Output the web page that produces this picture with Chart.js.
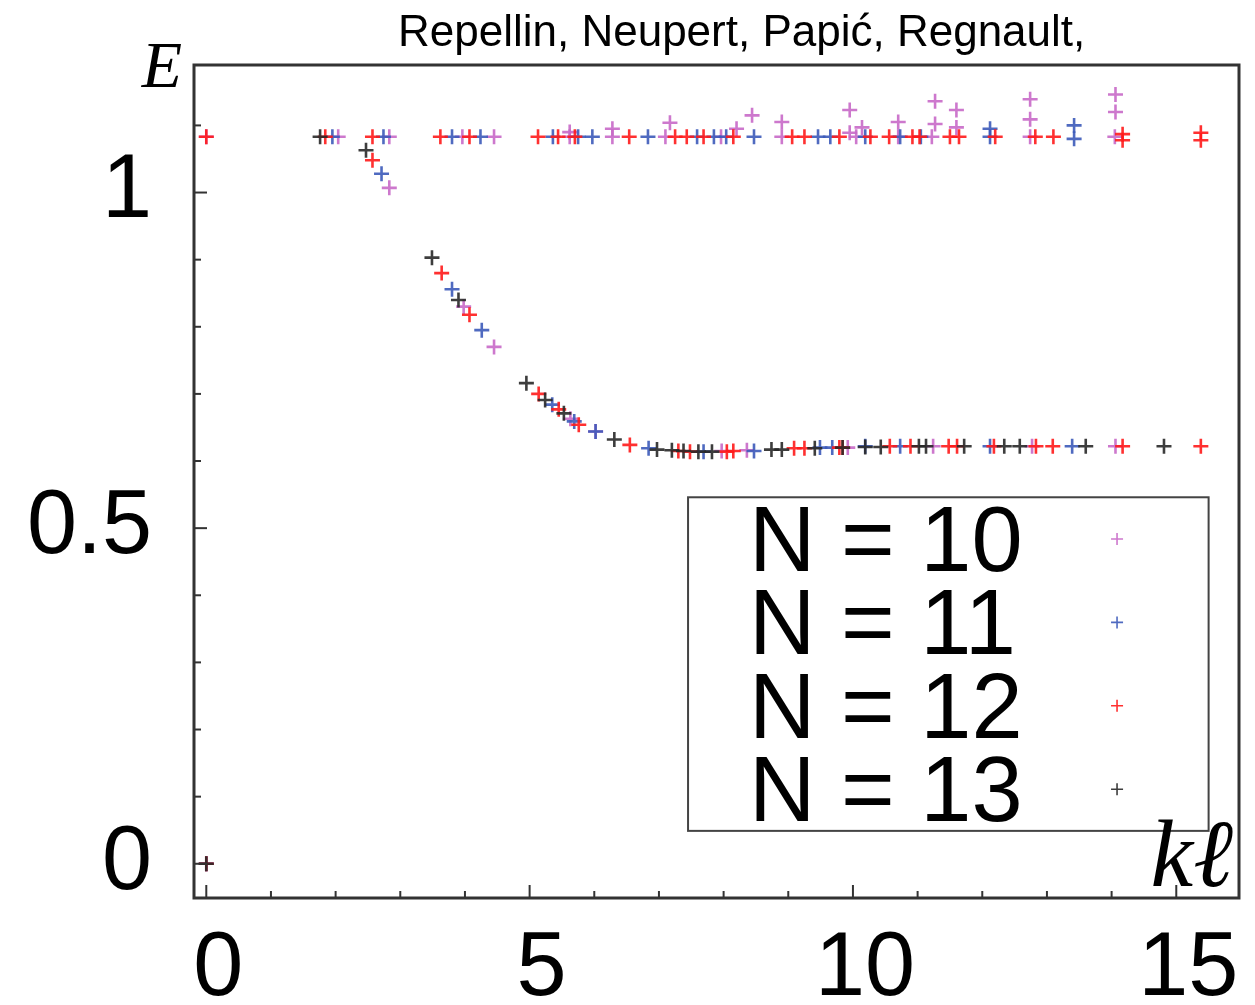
<!DOCTYPE html>
<html>
<head>
<meta charset="utf-8">
<script src="https://cdn.jsdelivr.net/npm/chart.js@4.4.0/dist/chart.umd.min.js"></script>
<style>
  html, body { margin: 0; padding: 0; background: #ffffff; }
  canvas { display: block; }
</style>
</head>
<body>
<canvas id="chart" width="1255" height="1005"></canvas>
<script>
// ---------- data ----------
const titleText = 'Repellin, Neupert, Papić, Regnault,';
const yAxisTitle = 'E';
const xAxisTitle = 'kℓ';
const seriesLabels = ['N = 10', 'N = 11', 'N = 12', 'N = 13'];

const xTickValues = [0, 1, 2, 3, 4, 5, 6, 7, 8, 9, 10, 11, 12, 13, 14, 15];
const xMajorTicks = [0, 5, 10, 15];
const yTickValues = [0, 0.1, 0.2, 0.3, 0.4, 0.5, 0.6, 0.7, 0.8, 0.9, 1, 1.1];
const yMajorTicks = [0, 0.5, 1];
const yTickLabels = ['0', '0.5', '1'];

const n10kl = [0, 0, 2.04, 2.83, 2.83, 3.96, 4.45, 5.62, 5.62, 6.28, 6.28, 7.10, 7.17, 7.96, 8.20, 8.44, 8.90, 8.90,
  9.95, 9.95, 10.05, 10.14, 10.70, 10.70, 11.22, 11.27, 11.27, 11.60, 11.60, 12.74, 12.74, 12.74, 14.05, 14.06, 14.06,
  3.98, 4.45, 5.63, 6.02, 7.97, 8.36, 9.92, 11.24, 12.77, 14.06];
const n10E = [0, 1.083, 1.083, 1.083, 1.007, 1.083, 1.083, 1.083, 1.090, 1.083, 1.095, 1.083, 1.104, 1.083, 1.095, 1.115, 1.105, 1.083,
  1.123, 1.089, 1.083, 1.097, 1.105, 1.083, 1.083, 1.136, 1.102, 1.123, 1.097, 1.139, 1.109, 1.083, 1.083, 1.146, 1.120,
  0.830, 0.770, 0.663, 0.644, 0.615, 0.616, 0.620, 0.622, 0.622, 0.622];

const n11kl = [0, 1.95, 2.74, 2.71, 3.80, 4.24, 5.36, 5.75, 5.97, 6.83, 7.59, 7.85, 8.04, 8.47, 9.46, 9.65, 10.19, 10.73,
  11.05, 12.12, 12.12, 13.42, 13.42,
  3.80, 4.26, 5.35, 5.69, 6.02, 6.84, 7.69, 8.47, 9.49, 9.68, 10.19, 10.73, 12.12, 13.39];
const n11E = [0, 1.083, 1.083, 1.028, 1.083, 1.083, 1.083, 1.083, 1.083, 1.083, 1.083, 1.083, 1.083, 1.083, 1.083, 1.083, 1.083, 1.083,
  1.083, 1.095, 1.083, 1.100, 1.080,
  0.856, 0.795, 0.684, 0.659, 0.644, 0.619, 0.614, 0.615, 0.620, 0.620, 0.622, 0.622, 0.622, 0.622];

const n12kl = [0, 0, 1.84, 2.57, 2.57, 3.62, 4.07, 5.13, 5.44, 5.70, 6.54, 7.25, 7.43, 7.69, 8.15, 9.06, 9.25, 9.79,
  10.27, 10.56, 10.92, 11.03, 11.50, 11.64, 12.20, 12.82, 13.10, 14.17, 14.17, 15.38, 15.38,
  3.64, 4.07, 5.14, 5.45, 5.76, 6.55, 7.30, 7.48, 8.05, 8.15, 9.09, 9.25, 9.79, 9.84, 10.57, 10.89, 11.48, 11.61,
  12.18, 12.83, 13.09, 14.17, 15.38];
const n12E = [0, 1.083, 1.083, 1.083, 1.048, 1.083, 1.083, 1.083, 1.083, 1.083, 1.083, 1.083, 1.083, 1.083, 1.083, 1.083, 1.083, 1.083,
  1.083, 1.083, 1.083, 1.083, 1.083, 1.083, 1.083, 1.083, 1.083, 1.087, 1.078, 1.089, 1.078,
  0.880, 0.818, 0.700, 0.677, 0.654, 0.624, 0.615, 0.614, 0.614, 0.615, 0.619, 0.619, 0.620, 0.620, 0.622, 0.622, 0.622, 0.622,
  0.622, 0.622, 0.622, 0.622, 0.622];

const n13kl = [0, 1.76, 2.47, 3.49, 3.90, 4.95, 5.24, 5.53, 6.31, 6.97, 7.20, 7.38, 7.61, 7.82, 8.74, 8.90, 9.41, 9.84,
  10.19, 10.43, 11.02, 11.13, 11.72, 12.34, 12.58, 13.60, 14.81];
const n13E = [0, 1.083, 1.063, 0.903, 0.840, 0.716, 0.691, 0.671, 0.632, 0.617, 0.616, 0.615, 0.614, 0.614, 0.617, 0.617, 0.619, 0.620,
  0.621, 0.621, 0.622, 0.622, 0.622, 0.622, 0.622, 0.622, 0.622];

// ---------- styling ----------
const seriesColors = ['rgba(200,105,200,0.9)', 'rgba(60,90,185,0.9)', 'rgba(255,25,25,0.9)', 'rgba(40,40,40,0.9)'];
const frameColor = '#333333';
const sans = '"Liberation Sans", Arimo, Helvetica, Arial, sans-serif';
const serif = '"Liberation Serif", "DejaVu Serif", serif';

function toPoints(xs, ys) {
  const n = Math.min(xs.length, ys.length);
  const out = [];
  for (let i = 0; i < n; i++) out.push({ x: xs[i], y: ys[i] });
  return out;
}

const seriesData = [toPoints(n10kl, n10E), toPoints(n11kl, n11E), toPoints(n12kl, n12E), toPoints(n13kl, n13E)];

const datasets = seriesData.map((d, i) => ({
  label: seriesLabels[i],
  data: d,
  pointStyle: 'cross',
  pointRadius: 7.5,
  pointHoverRadius: 7.5,
  pointBorderWidth: 2.6,
  borderColor: seriesColors[i],
  backgroundColor: seriesColors[i],
  showLine: false,
  order: 4 - i
}));

// ---------- custom drawing: frame, inward ticks, legend, labels ----------
const decorPlugin = {
  id: 'decor',
  afterDraw(chart) {
    const ctx = chart.ctx;
    const a = chart.chartArea;
    const xs = chart.scales.x, ys = chart.scales.y;
    ctx.save();
    // inward ticks
    ctx.strokeStyle = frameColor;
    ctx.lineWidth = 2;
    xTickValues.forEach(v => {
      const px = xs.getPixelForValue(v);
      const len = xMajorTicks.includes(v) ? 13 : 7;
      ctx.beginPath(); ctx.moveTo(px, a.bottom); ctx.lineTo(px, a.bottom - len); ctx.stroke();
    });
    yTickValues.forEach(v => {
      const py = ys.getPixelForValue(v);
      const len = yMajorTicks.includes(v) ? 13 : 7;
      ctx.beginPath(); ctx.moveTo(a.left, py); ctx.lineTo(a.left + len, py); ctx.stroke();
    });
    // frame
    ctx.lineWidth = 3;
    ctx.strokeRect(a.left, a.top, a.right - a.left, a.bottom - a.top);

    // legend box
    const lx = xs.getPixelForValue(7.45), rx = xs.getPixelForValue(15.5);
    const ty = ys.getPixelForValue(0.546), by = ys.getPixelForValue(0.049);
    ctx.fillStyle = '#ffffff';
    ctx.fillRect(lx, ty, rx - lx, by - ty);
    ctx.lineWidth = 2;
    ctx.strokeStyle = '#444444';
    ctx.strokeRect(lx, ty, rx - lx, by - ty);
    const rowH = (by - ty) / 4;
    ctx.font = '92px ' + sans;
    ctx.textAlign = 'left';
    ctx.textBaseline = 'alphabetic';
    seriesLabels.forEach((lab, i) => {
      const cy = ty + rowH * (i + 0.5);
      ctx.fillStyle = '#000000';
      ctx.fillText(lab, lx + 61, cy + 32);
      const mx = lx + 429;
      ctx.strokeStyle = seriesColors[i];
      ctx.lineWidth = 1.6;
      ctx.beginPath();
      ctx.moveTo(mx - 6, cy); ctx.lineTo(mx + 6, cy);
      ctx.moveTo(mx, cy - 6); ctx.lineTo(mx, cy + 6);
      ctx.stroke();
    });

    // title
    ctx.fillStyle = '#000000';
    ctx.font = '44px ' + sans;
    ctx.textAlign = 'left';
    ctx.fillText(titleText, 398, 46);

    // axis titles
    ctx.font = 'italic 66px ' + serif;
    ctx.textAlign = 'right';
    ctx.fillText(yAxisTitle, a.left - 12, a.top + 22);
    ctx.font = 'italic 96px ' + serif;
    ctx.textAlign = 'right';
    ctx.fillText(xAxisTitle, a.right - 6, a.bottom - 12);
    ctx.restore();
  }
};

new Chart(document.getElementById('chart'), {
  type: 'scatter',
  data: { datasets },
  options: {
    responsive: false,
    animation: false,
    devicePixelRatio: 1,
    layout: { padding: { left: 0, right: 16, top: 65, bottom: 0 } },
    plugins: {
      legend: { display: false },
      tooltip: { enabled: false },
      title: { display: false }
    },
    scales: {
      x: {
        type: 'linear',
        min: -0.19,
        max: 15.97,
        afterBuildTicks: s => { s.ticks = xTickValues.map(v => ({ value: v })); },
        afterFit: s => { s.height = 107; s.paddingLeft = 0; s.paddingRight = 0; },
        grid: { display: false, drawTicks: false },
        border: { display: false },
        ticks: {
          autoSkip: false,
          maxRotation: 0,
          padding: 18,
          labelOffset: 12,
          color: '#000000',
          font: { family: sans, size: 90 },
          callback: v => (xMajorTicks.includes(v) ? String(v) : '')
        }
      },
      y: {
        type: 'linear',
        min: -0.051,
        max: 1.19,
        afterBuildTicks: s => { s.ticks = yTickValues.map(v => ({ value: v })); },
        afterFit: s => { s.width = 194; s.paddingTop = 0; s.paddingBottom = 0; },
        grid: { display: false, drawTicks: false },
        border: { display: false },
        ticks: {
          autoSkip: false,
          padding: 42,
          color: '#000000',
          font: { family: sans, size: 90 },
          callback: v => {
            const k = yMajorTicks.indexOf(v);
            return k >= 0 ? yTickLabels[k] : '';
          }
        }
      }
    }
  },
  plugins: [decorPlugin]
});
</script>
</body>
</html>
